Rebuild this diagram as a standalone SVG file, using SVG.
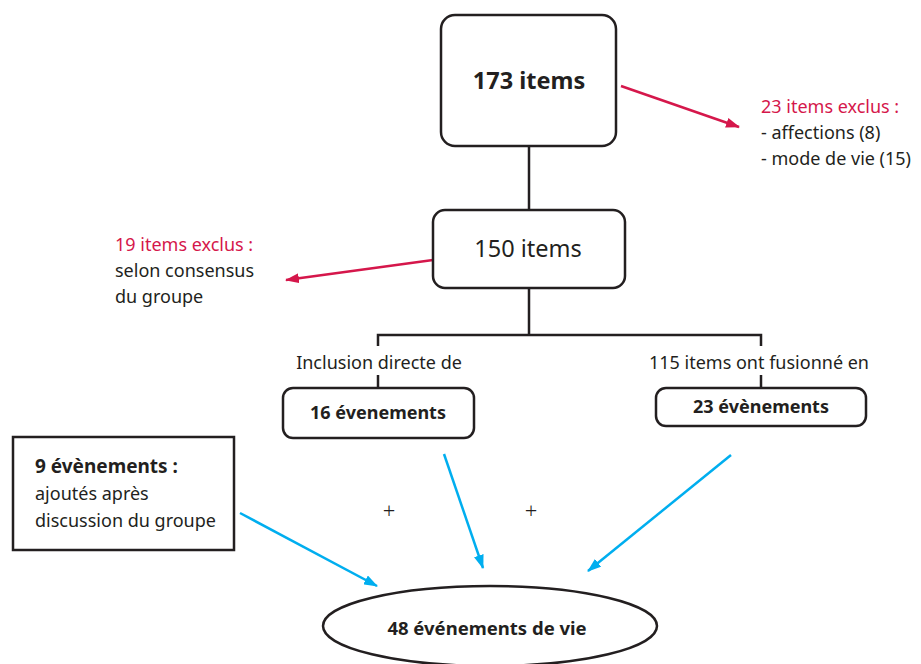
<svg xmlns="http://www.w3.org/2000/svg" width="921" height="664" viewBox="0 0 921 664">
<defs>
<style>
text{font-family:"Noto Sans","Open Sans","Liberation Sans",sans-serif;fill:#231f20}
.box{fill:#fff;stroke:#231f20;stroke-width:2.5}
.ln{stroke:#231f20;stroke-width:2.5;fill:none}
.red{stroke:#d5174b;stroke-width:2.5;fill:none}
.blue{stroke:#00aeef;stroke-width:2.5;fill:none}
.rt{fill:#d5174b}
.b{font-weight:bold}
.t18{font-size:18px}
</style>
<marker id="ar" viewBox="0 0 14 10" refX="13" refY="5" markerWidth="14" markerHeight="10" markerUnits="userSpaceOnUse" orient="auto"><path d="M0,0L14,5L0,10z" fill="#d5174b"/></marker>
<marker id="ab" viewBox="0 0 14 10" refX="13" refY="5" markerWidth="14" markerHeight="10" markerUnits="userSpaceOnUse" orient="auto"><path d="M0,0L14,5L0,10z" fill="#00aeef"/></marker>
</defs>
<rect width="921" height="664" fill="#fff"/>
<g id="connectors">
<line class="ln" x1="529" y1="146" x2="529" y2="210"/>
<path class="ln" d="M529,288V335M378,346V335H761V346"/>
<line class="ln" x1="378" y1="375" x2="378" y2="388"/>
<line class="ln" x1="761" y1="375" x2="761" y2="388"/>
<line class="red" x1="621" y1="86" x2="739" y2="127" marker-end="url(#ar)"/>
<line class="red" x1="433" y1="260" x2="286" y2="280" marker-end="url(#ar)"/>
<line class="blue" x1="240" y1="513" x2="377" y2="586" marker-end="url(#ab)"/>
<line class="blue" x1="444" y1="454" x2="483" y2="568" marker-end="url(#ab)"/>
<line class="blue" x1="731" y1="455" x2="588" y2="571" marker-end="url(#ab)"/>
</g>
<g id="n173">
<rect class="box" x="441" y="15" width="175" height="131" rx="14"/>
<text class="b" x="529" y="89" font-size="23.5" text-anchor="middle">173 items</text>
</g>
<g id="excl23">
<text class="t18 rt" x="761" y="113">23 items exclus :</text>
<text class="t18" x="761" y="139">- affections (8)</text>
<text class="t18" x="761" y="165">- mode de vie (15)</text>
</g>
<g id="n150">
<rect class="box" x="433" y="210" width="192" height="78" rx="12"/>
<text x="528" y="257" font-size="23.5" text-anchor="middle">150 items</text>
</g>
<g id="excl19">
<text class="t18 rt" x="115" y="251">19 items exclus :</text>
<text class="t18" x="115" y="277">selon consensus</text>
<text class="t18" x="115" y="303">du groupe</text>
</g>
<g id="lbl-inclusion">
<text class="t18" x="379" y="369" text-anchor="middle">Inclusion directe de</text>
</g>
<g id="lbl-fusion">
<text class="t18" x="759" y="369" text-anchor="middle">115 items ont fusionné en</text>
</g>
<g id="n16">
<rect class="box" x="283" y="388" width="191" height="50" rx="10"/>
<text class="b" x="378" y="419" font-size="18" text-anchor="middle">16 évenements</text>
</g>
<g id="n23">
<rect class="box" x="656" y="388" width="210" height="38" rx="10"/>
<text class="b" x="761" y="413" font-size="18" text-anchor="middle">23 évènements</text>
</g>
<g id="n9">
<rect class="box" x="13" y="437" width="221" height="113"/>
<text class="b" x="35" y="473" font-size="19">9 évènements :</text>
<text class="t18" x="35" y="500">ajoutés après</text>
<text class="t18" x="35" y="527">discussion du groupe</text>
</g>
<g id="plus">
<text x="389" y="519" font-size="22" font-weight="300" text-anchor="middle">+</text>
<text x="531" y="519" font-size="22" font-weight="300" text-anchor="middle">+</text>
</g>
<g id="n48">
<ellipse class="box" cx="490" cy="626" rx="167" ry="40"/>
<text class="b" x="487" y="635" font-size="18.5" text-anchor="middle">48 événements de vie</text>
</g>
</svg>
